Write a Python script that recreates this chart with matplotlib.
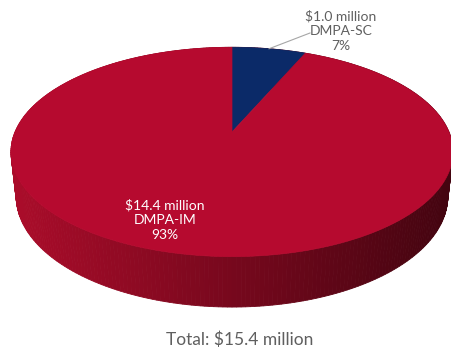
import numpy as np
import matplotlib
matplotlib.use("Agg")
import matplotlib.pyplot as plt
from matplotlib.patches import Polygon

# funding by product, $ million
products = ["DMPA-SC", "DMPA-IM"]
amounts = [1.0, 14.4]
shares = [7, 93]
total_label = "Total: $15.4 million"

top_colors = ["#0b2a68", "#b60a2f"]
side_left = np.array([170, 12, 42]) / 255
side_right = np.array([68, 4, 16]) / 255

# layout of the tilted disc (pixels)
CX, CY = 232, 132
A = 217          # horizontal scale
K = 0.215        # perspective strength
TILT = np.radians(27.7)
H = 0.234        # thickness, in radii
SIN_T, COS_T = np.sin(TILT), np.cos(TILT)


def project(theta_deg, z=0.0):
    t = np.radians(theta_deg)
    X, Y = np.cos(t), np.sin(t)
    w = 1 + K * (Y * COS_T - z * SIN_T)
    sx = CX + A * X / w
    sy = CY - A * (Y * SIN_T + z * COS_T) / w
    return sx, sy, w


fig = plt.figure(figsize=(4.52, 3.51), dpi=100)
ax = fig.add_axes([0, 0, 1, 1])
ax.set_xlim(0, 452)
ax.set_ylim(351, 0)
ax.axis("off")

# slice angles: start at 12 o'clock, run clockwise
fracs = np.array(amounts) / sum(amounts)
starts = 90 - 360 * np.concatenate([[0], np.cumsum(fracs)[:-1]])
ends = starts - 360 * fracs

# side wall as thin strips, far ones first
strips = []
for t1 in np.arange(0, 360, 1.0):
    t2 = t1 + 1.0
    x1, y1, w1 = project(t1)
    x2, y2, w2 = project(t2)
    x3, y3, _ = project(t2, -H)
    x4, y4, _ = project(t1, -H)
    strips.append(((w1 + w2) / 2, [(x1, y1), (x2, y2), (x3, y3), (x4, y4)], (x1 + x2) / 2))
strips.sort(key=lambda s: -s[0])
for _, pts, mx in strips:
    f = np.clip((mx - (CX - A)) / (2 * A), 0, 1)
    c = side_left * (1 - f) + side_right * f
    ax.add_patch(Polygon(pts, closed=True, facecolor=c, edgecolor=c, lw=0.6))

# top face wedges
for s, e, col in zip(starts, ends, top_colors):
    th = np.linspace(s, e, 200)
    xs, ys, _ = project(th)
    pts = [(CX, CY)] + list(zip(xs, ys))
    ax.add_patch(Polygon(pts, closed=True, facecolor=col, edgecolor=col, lw=0.5))

font = "Lato"

# outside label for the small slice with a leader line
mid = (starts[0] + ends[0]) / 2
lx, ly, _ = project(mid)
ax.plot([lx, 310], [ly, 33], color="#a6a6a6", lw=0.8)
ax.text(341, 31, f"${amounts[0]:.1f} million\n{products[0]}\n{shares[0]}%",
        ha="center", va="center", color="#5f5f5f", fontsize=10,
        family=font, linespacing=1.3)

# label inside the large slice
ax.text(165, 220, f"${amounts[1]:.1f} million\n{products[1]}\n{shares[1]}%",
        ha="center", va="center", color="white", fontsize=10,
        family=font, linespacing=1.3)

ax.text(240, 340, total_label, ha="center", va="center",
        color="#5f5f5f", fontsize=12.5, family=font)

fig.savefig("out.png", dpi=100)
